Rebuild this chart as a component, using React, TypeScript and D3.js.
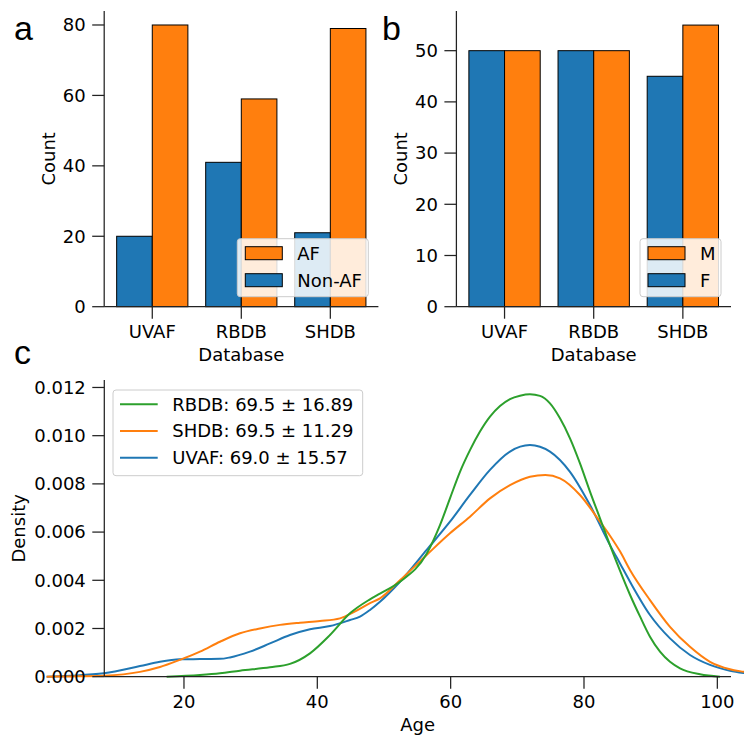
import React from "react";
import * as d3 from "d3";

const categories = ["UVAF", "RBDB", "SHDB"];
const nonAFCounts = [20, 41, 21];
const afCounts = [80, 59, 79];
const femaleCounts = [50, 50, 45];
const maleCounts = [50, 50, 55];

const countTicksA = [0, 20, 40, 60, 80];
const countTicksB = [0, 10, 20, 30, 40, 50];
const ageTicks = [20, 40, 60, 80, 100];
const densityTicks = [0, 0.002, 0.004, 0.006, 0.008, 0.01, 0.012];

const legendA = ["AF", "Non-AF"];
const legendB = ["M", "F"];
const legendC = ["RBDB: 69.5 ± 16.89", "SHDB: 69.5 ± 11.29", "UVAF: 69.0 ± 15.57"];

// KDE curves: ages and densities
const rbdbAge = [17.4, 22.4, 25.4, 28.4, 32.9, 35.9, 38.9, 41.9, 44.9, 47.9, 49.4, 52.4, 56.4, 58.4, 59.9, 61.4, 62.9, 64.4, 65.9, 67.4, 68.9, 70.4, 71.9, 73.4, 74.9, 76.4, 77.9, 79.4, 80.9, 82.4, 83.9, 85.4, 86.9, 88.4, 89.9, 91.4, 92.9, 94.4, 97.4, 100.4];
const rbdbDensity = [0, 0.00007, 0.00014, 0.00025, 0.00039, 0.00053, 0.00097, 0.00173, 0.00263, 0.00321, 0.00345, 0.00394, 0.0051, 0.00629, 0.0074, 0.0085, 0.0094, 0.01017, 0.01079, 0.01123, 0.01152, 0.01166, 0.01172, 0.01165, 0.01134, 0.01072, 0.00989, 0.00885, 0.00768, 0.00657, 0.00546, 0.0044, 0.0034, 0.0025, 0.00166, 0.00104, 0.00062, 0.00035, 0.0001, 0];

const shdbAge = [-0.6, 3, 8, 13.4, 16.4, 19.4, 22.4, 25.4, 28.4, 31.4, 34.4, 37.4, 40.4, 43.4, 45.6, 47.9, 49.4, 52.4, 56.4, 59.9, 62.9, 65.9, 68.9, 71.9, 74.2, 76.4, 79.4, 82.4, 83.9, 85.4, 86.9, 89.9, 92.9, 95.9, 98.9, 101.9, 104, 106];
const shdbDensity = [0, 0.00001, 0.00004, 0.0002, 0.0004, 0.0007, 0.00104, 0.00145, 0.0018, 0.002, 0.00215, 0.00224, 0.00231, 0.00242, 0.0027, 0.00305, 0.00325, 0.004, 0.00505, 0.00595, 0.00664, 0.0074, 0.00795, 0.0083, 0.00837, 0.00823, 0.00754, 0.00643, 0.00585, 0.0052, 0.00443, 0.00318, 0.00207, 0.00124, 0.00062, 0.00031, 0.0002, 0.0001];

const uvafAge = [-0.6, 3, 8, 13.4, 16.4, 19.4, 22.4, 25.4, 26.9, 29.9, 32.9, 35.9, 38.9, 41.9, 44.9, 46.4, 47.9, 49.4, 52.4, 56.4, 59.9, 62.9, 65.9, 68.9, 71.9, 73.4, 74.9, 77.9, 80.9, 83.9, 85.4, 86.9, 89.9, 92.9, 95.9, 98.9, 101.9, 104, 106];
const uvafDensity = [0, 0.00004, 0.00014, 0.00044, 0.00062, 0.00072, 0.00073, 0.00074, 0.0008, 0.00104, 0.00138, 0.00173, 0.00197, 0.0021, 0.00235, 0.00249, 0.00277, 0.00311, 0.00394, 0.00526, 0.00643, 0.00754, 0.00858, 0.00934, 0.00961, 0.00954, 0.00934, 0.0085, 0.00712, 0.00546, 0.0047, 0.00394, 0.00256, 0.00159, 0.0009, 0.00049, 0.00025, 0.00015, 0.00008];

const BLUE = "#1f77b4";
const ORANGE = "#ff7f0e";
const GREEN = "#2ca02c";
const FONT = "DejaVu Sans, Verdana, sans-serif";
const FS = 18;
const AX = "#222";

function BarPanel({ left, right, top, bottom, yMax, ticks, first, second, labels, legend, legendBox, letter, letterX }) {
  const x = d3.scaleLinear().domain([-0.54, 2.54]).range([left, right]);
  const y = d3.scaleLinear().domain([0, yMax]).range([bottom, top]);
  const w = 0.4;
  const series = [
    { vals: first, color: BLUE, off: -w },
    { vals: second, color: ORANGE, off: 0 },
  ];
  return (
    <g>
      {series.map((s, si) =>
        s.vals.map((v, i) => (
          <rect
            key={si + "-" + i}
            x={x(i + s.off)}
            y={y(v)}
            width={x(i + s.off + w) - x(i + s.off)}
            height={y(0) - y(v)}
            fill={s.color}
            stroke="#000"
            strokeWidth={1}
          />
        ))
      )}
      <line x1={left} x2={left} y1={top} y2={bottom} stroke={AX} strokeWidth={1.25} />
      <line x1={left} x2={right} y1={bottom} y2={bottom} stroke={AX} strokeWidth={1.25} />
      {ticks.map((t) => (
        <g key={t}>
          <line x1={left - 12} x2={left} y1={y(t)} y2={y(t)} stroke={AX} strokeWidth={1.25} />
          <text x={left - 18.5} y={y(t)} dy="0.35em" textAnchor="end" fontSize={FS} fontFamily={FONT}>{t}</text>
        </g>
      ))}
      {labels.map((c, i) => (
        <g key={c}>
          <line x1={x(i)} x2={x(i)} y1={bottom} y2={bottom + 12} stroke={AX} strokeWidth={1.25} />
          <text x={x(i)} y={bottom + 31.5} textAnchor="middle" fontSize={FS} fontFamily={FONT}>{c}</text>
        </g>
      ))}
      <text x={(left + right) / 2} y={bottom + 54.5} textAnchor="middle" fontSize={FS} fontFamily={FONT}>Database</text>
      <text transform={`translate(${left - 49},${(top + bottom) / 2}) rotate(-90)`} textAnchor="middle" fontSize={FS} fontFamily={FONT}>Count</text>
      <rect x={legendBox.x} y={legendBox.y} width={legendBox.w} height={legendBox.h} rx={3} fill="#fff" fillOpacity={0.85} stroke="#ccc" strokeWidth={1} />
      {legend.map((l, i) => (
        <g key={l}>
          <rect x={legendBox.x + 8} y={legendBox.y + 8 + i * 27} width={37} height={13} fill={i === 0 ? ORANGE : BLUE} stroke="#000" strokeWidth={1} />
          <text x={legendBox.x + 60} y={legendBox.y + 14.5 + i * 27} dy="0.35em" fontSize={FS} fontFamily={FONT}>{l}</text>
        </g>
      ))}
      <text x={letterX} y={40} fontSize={34} fontFamily="Liberation Sans, Arial, sans-serif">{letter}</text>
    </g>
  );
}

export default function App() {
  const cLeft = 104.3, cRight = 731, cTop = 380, cBottom = 676.7;
  const xc = d3.scaleLinear().domain([8.05, 102.05]).range([cLeft, cRight]);
  const yc = d3.scaleLinear().domain([0, 0.01231]).range([cBottom, cTop]);
  const mk = (ages: number[], dens: number[]) =>
    d3.line<number>().x((_, i) => xc(ages[i])).y((_, i) => yc(dens[i])).curve(d3.curveMonotoneX)(ages) || "";
  const curves = [
    { path: mk(uvafAge, uvafDensity), color: BLUE },
    { path: mk(shdbAge, shdbDensity), color: ORANGE },
    { path: mk(rbdbAge, rbdbDensity), color: GREEN },
  ];
  const legendColors = [GREEN, ORANGE, BLUE];
  return (
    <svg width={744} height={738} style={{ position: "absolute", left: 0, top: 0, display: "block", background: "#fff" }}>
      <rect width={744} height={738} fill="#fff" />
      <BarPanel
        left={104.2} right={378.4} top={10.9} bottom={306.7} yMax={84}
        ticks={countTicksA} first={nonAFCounts} second={afCounts} labels={categories}
        legend={legendA} legendBox={{ x: 237.3, y: 238.7, w: 131, h: 58 }}
        letter="a" letterX={14}
      />
      <BarPanel
        left={456.4} right={731} top={11} bottom={306.7} yMax={57.75}
        ticks={countTicksB} first={femaleCounts} second={maleCounts} labels={categories}
        legend={legendB} legendBox={{ x: 640, y: 238.7, w: 81, h: 58 }}
        letter="b" letterX={382}
      />
      {/* Panel c */}
      {curves.map((c, i) => (
        <path key={i} d={c.path} fill="none" stroke={c.color} strokeWidth={2} />
      ))}
      <line x1={cLeft} x2={cLeft} y1={cTop} y2={cBottom} stroke={AX} strokeWidth={1.25} />
      <line x1={cLeft} x2={cRight} y1={cBottom} y2={cBottom} stroke={AX} strokeWidth={1.25} />
      {densityTicks.map((t) => (
        <g key={t}>
          <line x1={cLeft - 12} x2={cLeft} y1={yc(t)} y2={yc(t)} stroke={AX} strokeWidth={1.25} />
          <text x={cLeft - 18.5} y={yc(t)} dy="0.35em" textAnchor="end" fontSize={FS} fontFamily={FONT}>{t.toFixed(3)}</text>
        </g>
      ))}
      {ageTicks.map((t) => (
        <g key={t}>
          <line x1={xc(t)} x2={xc(t)} y1={cBottom} y2={cBottom + 12} stroke={AX} strokeWidth={1.25} />
          <text x={xc(t)} y={cBottom + 31.5} textAnchor="middle" fontSize={FS} fontFamily={FONT}>{t}</text>
        </g>
      ))}
      <text x={(cLeft + cRight) / 2} y={cBottom + 54.5} textAnchor="middle" fontSize={FS} fontFamily={FONT}>Age</text>
      <text transform={`translate(${25},${(cTop + cBottom) / 2}) rotate(-90)`} textAnchor="middle" fontSize={FS} fontFamily={FONT}>Density</text>
      <rect x={113} y={390} width={249.7} height={85.7} rx={3} fill="#fff" fillOpacity={0.85} stroke="#ccc" strokeWidth={1} />
      {legendC.map((l, i) => (
        <g key={l}>
          <line x1={120} x2={157.7} y1={404.3 + i * 26.7} y2={404.3 + i * 26.7} stroke={legendColors[i]} strokeWidth={2} />
          <text x={172.3} y={404.3 + i * 26.7} dy="0.35em" fontSize={FS} fontFamily={FONT}>{l}</text>
        </g>
      ))}
      <text x={14} y={364} fontSize={34} fontFamily="Liberation Sans, Arial, sans-serif">c</text>
    </svg>
  );
}
